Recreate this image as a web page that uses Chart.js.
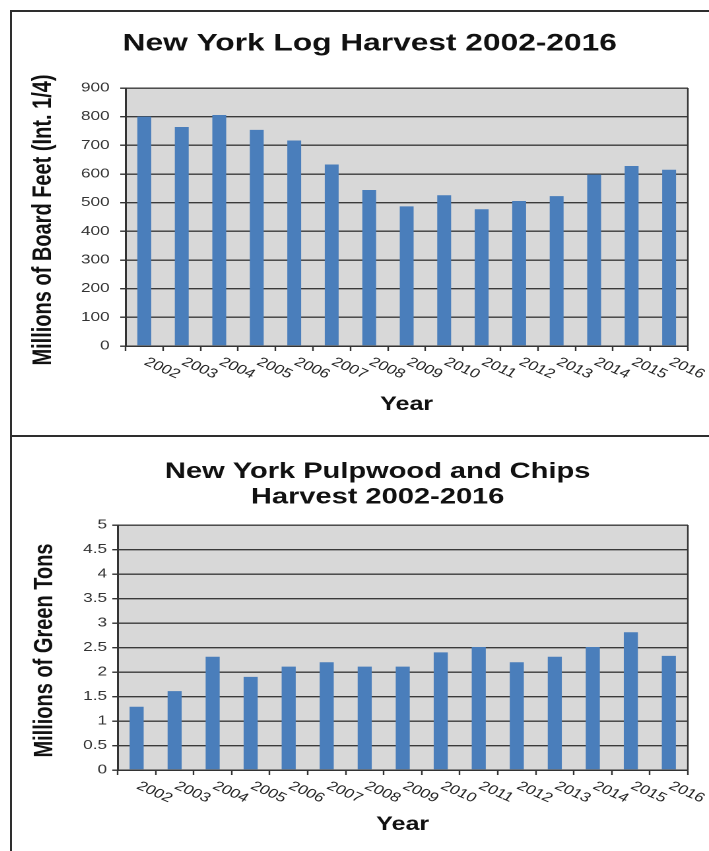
<!DOCTYPE html>
<html>
<head>
<meta charset="utf-8">
<title>New York Harvest 2002-2016</title>
<script src="https://cdn.jsdelivr.net/npm/chart.js@4.4.1/dist/chart.umd.min.js"></script>
<style>
  html, body { margin: 0; background: #fff; overflow: hidden; }
  .panel { position: absolute; left: 10px; width: 720px; border: 2px solid #2e2e2e; border-right: none; }
  #p1 { top: 10px; height: 423px; }
  #p2 { top: 437px; height: 420px; border-top: none; border-bottom: none; }
  /* the scanned original is stretched sideways, text included */
  .stretch { transform: scaleX(1.32); transform-origin: 0 0; width: 528px; }
  canvas { display: block; }
</style>
</head>
<body>
<div class="panel" id="p1"><div class="stretch"><canvas id="logChart" width="528" height="423"></canvas></div></div>
<div class="panel" id="p2"><div class="stretch"><canvas id="pulpChart" width="528" height="414"></canvas></div></div>

<script>
'use strict';

const years = ['2002', '2003', '2004', '2005', '2006', '2007', '2008', '2009',
  '2010', '2011', '2012', '2013', '2014', '2015', '2016'];

// millions of board feet (Int. 1/4)
const logHarvest = [800, 764, 806, 754, 717, 633, 544, 487, 526, 477, 506, 523, 598, 628, 615];
const logAxis = { min: 0, max: 900, step: 100 };

// millions of green tons
const pulpHarvest = [1.29, 1.61, 2.31, 1.9, 2.11, 2.2, 2.11, 2.11, 2.4, 2.51, 2.2, 2.31, 2.51, 2.81, 2.33];
const pulpAxis = { min: 0, max: 5, step: 0.5 };

const logTitle = 'New York Log Harvest 2002-2016';
const logYTitle = 'Millions of Board Feet (Int. 1/4)';
const pulpTitle = ['New York Pulpwood and Chips', 'Harvest 2002-2016'];
const pulpYTitle = 'Millions of Green Tons';

Chart.defaults.font.family = '"Liberation Sans", Arial, Helvetica, sans-serif';

const frameColor = '#333';

// grey plot background and right frame line
const plotFrame = {
  id: 'plotFrame',
  beforeDraw(chart) {
    const { ctx, chartArea: a } = chart;
    ctx.save();
    ctx.fillStyle = '#d8d8d8';
    ctx.fillRect(a.left, a.top, a.right - a.left, a.bottom - a.top);
    ctx.restore();
  },
  beforeDatasetsDraw(chart) {
    const { ctx, chartArea: a } = chart;
    ctx.save();
    ctx.strokeStyle = frameColor;
    ctx.lineWidth = 1.2;
    ctx.beginPath();
    ctx.moveTo(a.right, a.top);
    ctx.lineTo(a.right, a.bottom);
    ctx.stroke();
    ctx.restore();
  }
};

// year labels slanting down to the right, plus the rotated y title
const extraText = {
  id: 'extraText',
  afterDraw(chart, args, opts) {
    const { ctx, chartArea: a, scales: { x } } = chart;
    ctx.save();
    ctx.font = '13px "Liberation Sans", Arial, sans-serif';
    ctx.fillStyle = '#222';
    ctx.textAlign = 'left';
    ctx.textBaseline = 'middle';
    chart.data.labels.forEach((lab, i) => {
      ctx.save();
      ctx.translate(x.getPixelForValue(i) + 1, a.bottom + 15);
      ctx.rotate(30 * Math.PI / 180);
      ctx.fillText(lab, 0, 0);
      ctx.restore();
    });

    ctx.font = 'bold 20px "Liberation Sans", Arial, sans-serif';
    ctx.fillStyle = '#111';
    ctx.textAlign = 'center';
    ctx.translate(opts.titleX, (a.top + a.bottom) / 2 + 3);
    ctx.rotate(-Math.PI / 2);
    ctx.fillText(opts.text, 0, 0);
    ctx.restore();
  }
};

function makeChart(id, values, axis, title, yTitle, lay) {
  return new Chart(document.getElementById(id), {
    type: 'bar',
    data: {
      labels: years,
      datasets: [{
        data: values,
        backgroundColor: '#4a7ebb',
        barPercentage: 0.37,
        categoryPercentage: 1
      }]
    },
    options: {
      responsive: false,
      animation: false,
      devicePixelRatio: 2,
      layout: { padding: { left: lay.left, right: 16, top: 0, bottom: 0 } },
      plugins: {
        legend: { display: false },
        tooltip: { enabled: false },
        title: {
          display: true,
          text: title,
          color: '#111',
          font: { size: lay.titleSize, weight: 'bold', lineHeight: lay.titleLine },
          padding: lay.titlePad
        },
        extraText: { text: yTitle, titleX: lay.yTitleX }
      },
      scales: {
        x: {
          grid: { drawOnChartArea: false, drawTicks: true, tickLength: 5, tickColor: frameColor, tickWidth: 1.2 },
          border: { color: frameColor, width: 1.5 },
          ticks: { display: false },
          title: {
            display: true,
            text: 'Year',
            color: '#111',
            font: { size: 19, weight: 'bold' },
            padding: { top: 0, bottom: lay.yearPad }
          },
          afterFit: s => { s.height = lay.xHeight; }
        },
        y: {
          min: axis.min,
          max: axis.max,
          ticks: {
            stepSize: axis.step,
            color: '#333',
            font: { size: 13 },
            padding: lay.tickPad,
            callback: v => String(v)
          },
          grid: { color: '#3a3a3a', lineWidth: 1.4, tickLength: 4, tickColor: frameColor },
          border: { color: frameColor, width: 1.5 },
          afterFit: s => { s.width = lay.yWidth; }
        }
      }
    },
    plugins: [plotFrame, extraText]
  });
}

makeChart('logChart', logHarvest, logAxis, logTitle, logYTitle, {
  left: 30, yWidth: 56, tickPad: 8, yTitleX: 24,
  titleSize: 24, titleLine: 1.2, titlePad: { top: 17.6, bottom: 29.6 },
  xHeight: 89, yearPad: 18.6
});

makeChart('pulpChart', pulpHarvest, pulpAxis, pulpTitle, pulpYTitle, {
  left: 42, yWidth: 38, tickPad: 4, yTitleX: 25,
  titleSize: 22, titleLine: 1.15, titlePad: { top: 22.4, bottom: 15 },
  xHeight: 81, yearPad: 14.6
});
</script>
</body>
</html>
